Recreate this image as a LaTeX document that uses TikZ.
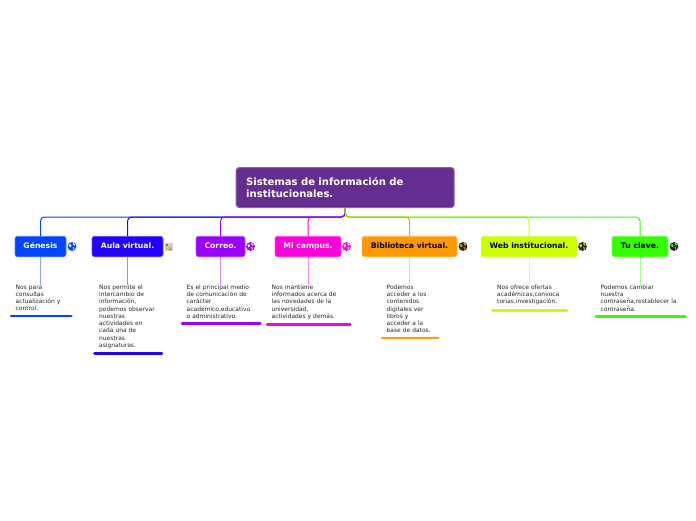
\documentclass[tikz,border=0pt]{standalone}
\usepackage{fontspec}
\usepackage{xcolor}
\usetikzlibrary{positioning,calc}
\setmainfont{DejaVu Sans}
\definecolor{cRoot}{HTML}{662D91}
\definecolor{cGenesis}{HTML}{0044FF}
\definecolor{cAula}{HTML}{2200FF}
\definecolor{cCorreo}{HTML}{9900FF}
\definecolor{cCampus}{HTML}{FF00DD}
\definecolor{cBiblio}{HTML}{FF9900}
\definecolor{cWeb}{HTML}{CCFF00}
\definecolor{cClave}{HTML}{33FF00}
\tikzset{
    rootbox/.style={fill=cRoot,draw=cRoot!75!white,line width=1pt,rounded corners=3pt,text=white,font=\fontsize{10.05}{12.6}\selectfont\bfseries,align=left,anchor=north west,inner xsep=10pt,inner ysep=0pt,minimum width=218pt,minimum height=40pt,text width=198pt},
    topicbox/.style={fill=#1,draw=#1!70!white,line width=.6pt,rounded corners=2.5pt,font=\fontsize{7.7}{9}\selectfont\bfseries,minimum height=20.5pt,inner sep=0pt,text height=6pt,text depth=1.5pt},
    notebox/.style={font=\fontsize{5.95}{7.25}\selectfont,text=black!85,align=left,inner xsep=5.5pt,inner ysep=0pt,below=27.5pt of #1,anchor=north,xshift=.7pt},
    branch/.style={draw=#1,line width=1pt,rounded corners=4pt},
    stem/.style={draw=#1!45!white,line width=1pt},
    underbar/.style={draw=#1,line width=2.6pt,line cap=round,shorten <=1pt,shorten >=1pt},
}
\newcommand{\globeicon}[3]{%
    \fill[#2] (#1) circle (4.4pt);
    \fill[#3] ($(#1)+(-2.9,-2.2)$) .. controls ($(#1)+(-.6,-3.6)$) and ($(#1)+(-.4,-1.2)$) .. ($(#1)+(-.7,-.2)$) .. controls ($(#1)+(-1,2)$) and ($(#1)+(-3.2,.8)$) .. cycle;
    \fill[#3] ($(#1)+(.8,-3.6)$) .. controls ($(#1)+(3.6,-3.4)$) and ($(#1)+(3.4,-1)$) .. ($(#1)+(2.6,-.8)$) .. controls ($(#1)+(1.2,-1)$) and ($(#1)+(.6,-2)$) .. cycle;
    \fill[#3] ($(#1)+(.8,.6)$) .. controls ($(#1)+(2.8,.2)$) and ($(#1)+(3,1.6)$) .. ($(#1)+(1.6,3.4)$) .. controls ($(#1)+(.8,2.6)$) and ($(#1)+(.4,1.6)$) .. cycle;
}
\begin{document}
\begin{tikzpicture}[x=1pt,y=-1pt]
    \useasboundingbox (0,0) rectangle (696,520);

    % Central topic
    \node[rootbox] (root) at (235.7,167) {Sistemas de información de\\institucionales.};

    % Main topics
    \node[topicbox=cGenesis,text=white,minimum width=51pt] (genesis) at (40.5,246.5) {Génesis};
    \node[topicbox=cAula,text=white,minimum width=71pt] (aula) at (127.5,246.5) {Aula virtual.};
    \node[topicbox=cCorreo,text=white,minimum width=49pt] (correo) at (220.5,246.5) {Correo.};
    \node[topicbox=cCampus,text=white,minimum width=66pt] (campus) at (308,246.5) {Mi campus.};
    \node[topicbox=cBiblio,text=black,minimum width=95pt] (biblio) at (409.5,246.5) {Biblioteca virtual.};
    \node[topicbox=cWeb,text=black,minimum width=96pt] (web) at (529,246.5) {Web institucional.};
    \node[topicbox=cClave,text=black,minimum width=56pt] (clave) at (640,246.5) {Tu clave.};

    % Notes
    \node[notebox=genesis,text width=51pt] (nGenesis) {Nos para\\consultas\\actualización y\\control.};
    \node[notebox=aula,text width=58pt] (nAula) {Nos permite el\\intercambio de\\información,\\podemos observar\\nuestras\\actividades en\\cada una de\\nuestras\\asignaturas.};
    \node[notebox=correo,text width=69pt] (nCorreo) {Es el principal medio\\de comunicación de\\carácter\\académico,educativo\\o administrativo.};
    \node[notebox=campus,text width=74pt] (nCampus) {Nos mantiene\\informados acerca de\\las novedades de la\\universidad,\\actividades y demás.};
    \node[notebox=biblio,text width=47pt] (nBiblio) {Podemos\\acceder a los\\contenidos\\digitales ver\\libros y\\acceder a la\\base de datos.};
    \node[notebox=web,text width=65pt] (nWeb) {Nos ofrece ofertas\\académicas,convoca\\torias,investigación.};
    \node[notebox=clave,text width=80pt] (nClave) {Podemos cambiar\\nuestra\\contraseña,restablecer la\\contraseña.};

    % Branches from the central topic
    \draw[branch=cGenesis] (root.south) -- ++(0,9) -| (genesis.north);
    \draw[branch=cAula] (root.south) -- ++(0,9) -| (aula.north);
    \draw[branch=cCampus] (root.south) -- ++(0,9) -| (campus.north);
    \draw[branch=cCorreo] (root.south) -- ++(0,9) -| (correo.north);
    \draw[branch=cWeb] (root.south) -- ++(0,9) -| (web.north);
    \draw[branch=cBiblio] (root.south) -- ++(0,9) -| (biblio.north);
    \draw[branch=cClave] (root.south) -- ++(0,9) -| (clave.north);

    % Stems and bars under the notes
    \foreach \n/\c in {genesis/Genesis,aula/Aula,correo/Correo,campus/Campus,biblio/Biblio,web/Web,clave/Clave}{
        \draw[stem=c\c] (\n.south) -- (\n.south |- n\c.north);
        \draw[underbar=c\c] ($(n\c.south west)+(0,5)$) -- ($(n\c.south east)+(0,5)$);
    }

    % Icons
    \coordinate (iGenesis) at (72,246.5);
    \coordinate (iCorreo) at (250.5,246.5);
    \coordinate (iCampus) at (346.5,246.5);
    \coordinate (iBiblio) at (463,246.5);
    \coordinate (iWeb) at (582.5,246.5);
    \coordinate (iClave) at (674,246.5);
    \globeicon{iGenesis}{cGenesis}{white}
    \globeicon{iCorreo}{cCorreo}{white}
    \globeicon{iCampus}{cCampus}{white}
    \globeicon{iBiblio}{black!85}{cBiblio}
    \globeicon{iWeb}{black!85}{cWeb}
    \globeicon{iClave}{black!85}{cClave}

    \node[fill=black!20,minimum width=8pt,minimum height=8pt,inner sep=0pt] (iAula) at (168.5,246.5) {};
    \fill[yellow!80!black] (165.5,246.5) rectangle (171.5,248.5);
    \fill[black!55] (166,244) rectangle (168,245.5);
    \fill[black!55] (169,249) rectangle (171,249.8);
\end{tikzpicture}
\end{document}
